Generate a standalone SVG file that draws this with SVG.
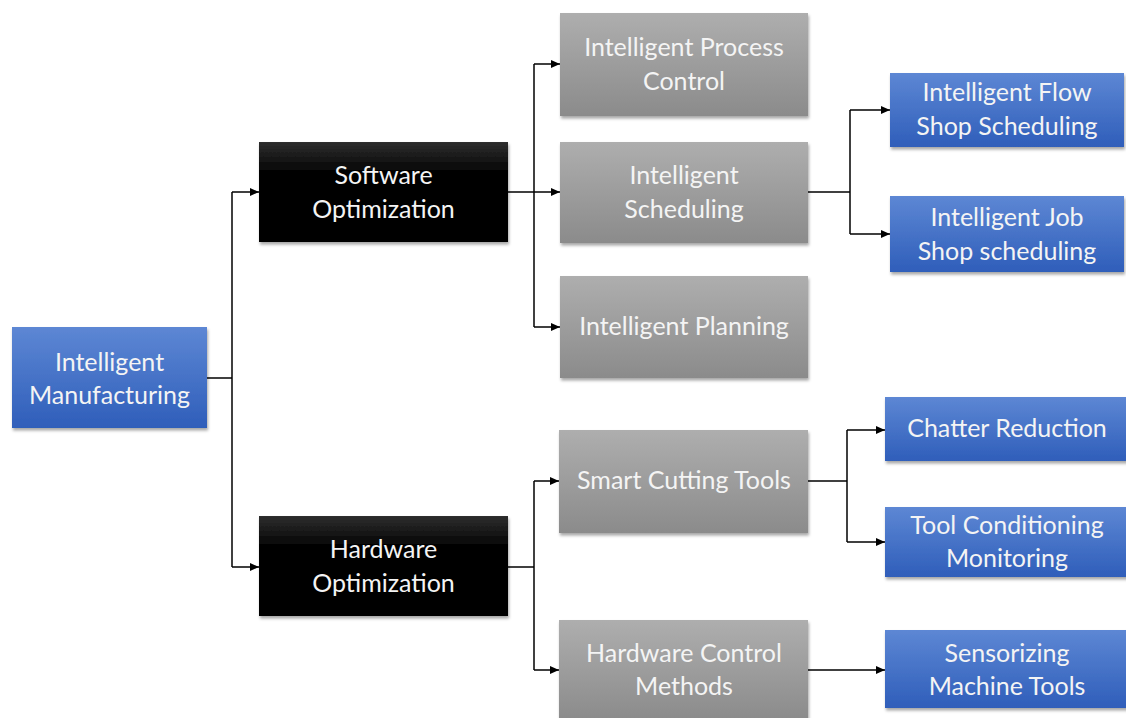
<svg xmlns="http://www.w3.org/2000/svg" width="1126" height="718" viewBox="0 0 1126 718">
  <defs>
    <linearGradient id="gBlue" x1="0" y1="0" x2="0" y2="1">
      <stop offset="0" stop-color="#5D87D4"/>
      <stop offset="1" stop-color="#2F5EBA"/>
    </linearGradient>
    <linearGradient id="gGray" x1="0" y1="0" x2="0" y2="1">
      <stop offset="0" stop-color="#AEAEAE"/>
      <stop offset="1" stop-color="#8B8B8B"/>
    </linearGradient>
    <linearGradient id="gBlack" x1="0" y1="0" x2="0" y2="1">
      <stop offset="0" stop-color="#2E2E2E"/>
      <stop offset="0.3" stop-color="#040404"/>
      <stop offset="1" stop-color="#000000"/>
    </linearGradient>
    <filter id="shadow" x="-5%" y="-5%" width="112%" height="120%">
      <feDropShadow dx="1" dy="2.5" stdDeviation="1.5" flood-color="#000" flood-opacity="0.35"/>
    </filter>
    <marker id="arrow" markerUnits="userSpaceOnUse" markerWidth="10" markerHeight="10" viewBox="0 0 10 10" refX="9" refY="5" orient="auto">
      <path d="M0,1 L9,5 L0,9 Z" fill="#000"/>
    </marker>
  </defs>
  <style>
    .blue { fill: url(#gBlue); filter: url(#shadow); }
    .gray { fill: url(#gGray); filter: url(#shadow); }
    .black { fill: url(#gBlack); filter: url(#shadow); }
    .label { font-family: Lato, "Open Sans", sans-serif; font-size: 25px; fill: #F4F4F4; text-anchor: middle; }
    .wire { fill: none; stroke: #000; stroke-width: 1.5; }
    .arr { marker-end: url(#arrow); }
  </style>

  <rect width="1126" height="718" fill="#FFFFFF"/>

  <!-- connectors -->
  <g id="connectors">
    <!-- root to the two optimization branches -->
    <path class="wire" d="M207,378 H232"/>
    <path class="wire" d="M232,192 V567"/>
    <path class="wire arr" d="M232,192 H259"/>
    <path class="wire arr" d="M232,567 H259"/>
    <!-- software branch -->
    <path class="wire" d="M508,192 H534"/>
    <path class="wire" d="M534,64 V327"/>
    <path class="wire arr" d="M534,64 H560"/>
    <path class="wire arr" d="M534,192 H560"/>
    <path class="wire arr" d="M534,327 H560"/>
    <!-- scheduling branch -->
    <path class="wire" d="M808,192 H850"/>
    <path class="wire" d="M850,110 V234"/>
    <path class="wire arr" d="M850,110 H890"/>
    <path class="wire arr" d="M850,234 H890"/>
    <!-- hardware branch -->
    <path class="wire" d="M508,567 H534"/>
    <path class="wire" d="M534,481 V670"/>
    <path class="wire arr" d="M534,481 H559"/>
    <path class="wire arr" d="M534,670 H559"/>
    <!-- smart cutting tools branch -->
    <path class="wire" d="M808,481 H847"/>
    <path class="wire" d="M847,430 V542"/>
    <path class="wire arr" d="M847,430 H885"/>
    <path class="wire arr" d="M847,542 H885"/>
    <!-- hardware control methods -->
    <path class="wire arr" d="M808,670 H885"/>
  </g>

  <g id="intelligent-manufacturing">
    <rect class="blue" x="12" y="327" width="195" height="101"/>
    <text class="label" x="109.5" y="371">Intelligent</text>
    <text class="label" x="109.5" y="404">Manufacturing</text>
  </g>

  <g id="software-optimization">
    <rect class="black" x="259" y="142" width="249" height="100"/>
    <text class="label" x="383.5" y="184">Software</text>
    <text class="label" x="383.5" y="218">Optimization</text>
  </g>

  <g id="hardware-optimization">
    <rect class="black" x="259" y="516" width="249" height="100"/>
    <text class="label" x="383.5" y="558">Hardware</text>
    <text class="label" x="383.5" y="592">Optimization</text>
  </g>

  <g id="intelligent-process-control">
    <rect class="gray" x="560" y="13" width="248" height="103"/>
    <text class="label" x="684" y="56">Intelligent Process</text>
    <text class="label" x="684" y="90">Control</text>
  </g>

  <g id="intelligent-scheduling">
    <rect class="gray" x="560" y="142" width="248" height="101"/>
    <text class="label" x="684" y="184">Intelligent</text>
    <text class="label" x="684" y="218">Scheduling</text>
  </g>

  <g id="intelligent-planning">
    <rect class="gray" x="560" y="276" width="248" height="102"/>
    <text class="label" x="684" y="335">Intelligent Planning</text>
  </g>

  <g id="smart-cutting-tools">
    <rect class="gray" x="559" y="430" width="249" height="103"/>
    <text class="label" x="684" y="489">Smart Cutting Tools</text>
  </g>

  <g id="hardware-control-methods">
    <rect class="gray" x="559" y="620" width="249" height="100"/>
    <text class="label" x="684" y="662">Hardware Control</text>
    <text class="label" x="684" y="695">Methods</text>
  </g>

  <g id="flow-shop-scheduling">
    <rect class="blue" x="890" y="73" width="234" height="74"/>
    <text class="label" x="1007" y="101">Intelligent Flow</text>
    <text class="label" x="1007" y="135">Shop Scheduling</text>
  </g>

  <g id="job-shop-scheduling">
    <rect class="blue" x="890" y="196" width="234" height="76"/>
    <text class="label" x="1007" y="226">Intelligent Job</text>
    <text class="label" x="1007" y="260">Shop scheduling</text>
  </g>

  <g id="chatter-reduction">
    <rect class="blue" x="885" y="397" width="243" height="64"/>
    <text class="label" x="1007" y="437">Chatter Reduction</text>
  </g>

  <g id="tool-conditioning-monitoring">
    <rect class="blue" x="885" y="507" width="243" height="70"/>
    <text class="label" x="1007" y="534">Tool Conditioning</text>
    <text class="label" x="1007" y="567">Monitoring</text>
  </g>

  <g id="sensorizing-machine-tools">
    <rect class="blue" x="885" y="630" width="243" height="78"/>
    <text class="label" x="1007" y="662">Sensorizing</text>
    <text class="label" x="1007" y="695">Machine Tools</text>
  </g>
</svg>
